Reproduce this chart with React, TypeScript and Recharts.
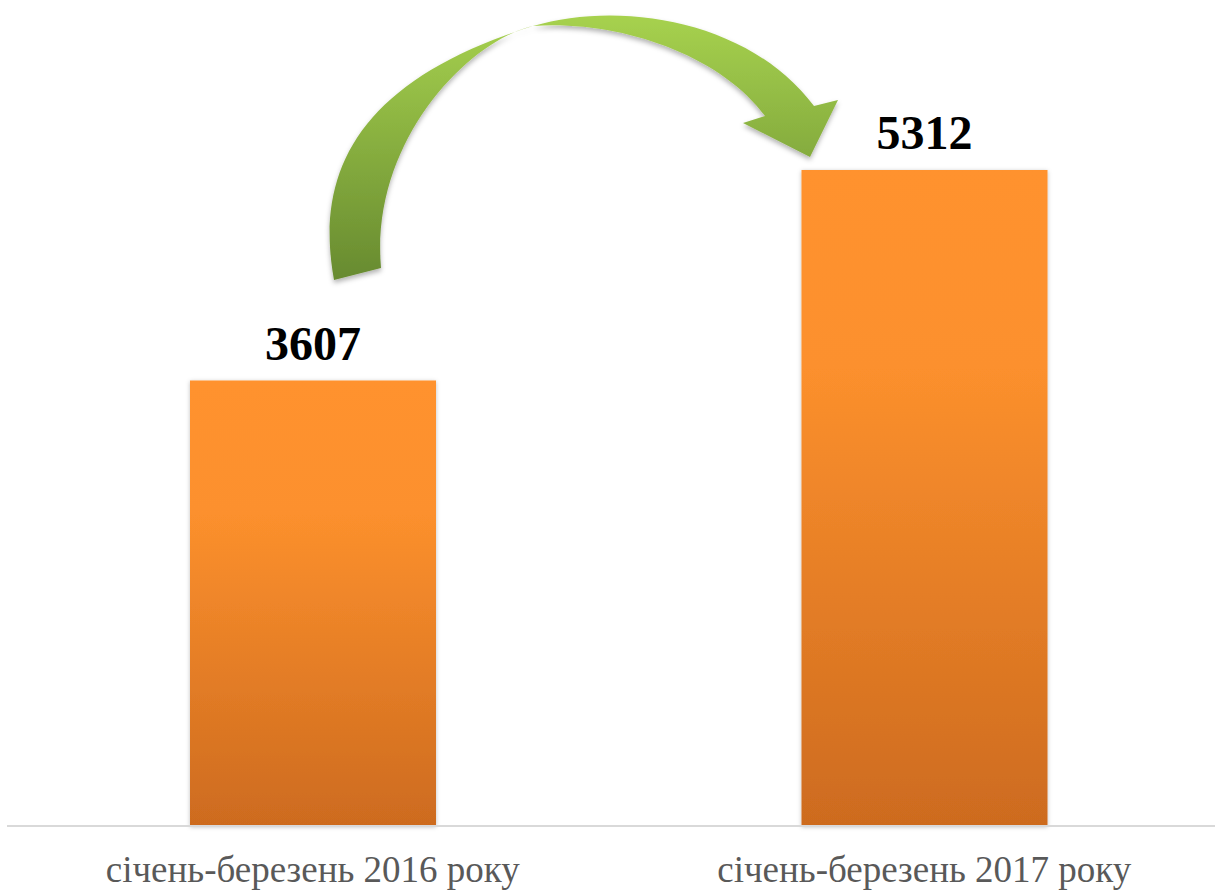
import React from 'react'
import { BarChart, Bar, XAxis, YAxis, LabelList } from 'recharts'

const categories = ['січень-березень 2016 року', 'січень-березень 2017 року']
const values = [3607, 5312]

const data = categories.map((period, i) => ({ period, value: values[i] }))

const W = 1215
const H = 892
const SERIF = '"Liberation Serif", "Times New Roman", serif'

const CategoryTick = (props: any) => {
  const { x, y, payload } = props
  return (
    <text
      x={x}
      y={y + 56}
      textAnchor="middle"
      fontFamily={SERIF}
      fontSize={37}
      fill="#595959"
    >
      {payload.value}
    </text>
  )
}

const ValueLabel = (props: any) => {
  const { x, y, width, value } = props
  return (
    <text
      x={x + width / 2}
      y={y - 21}
      textAnchor="middle"
      fontFamily={SERIF}
      fontSize={48}
      fontWeight="bold"
      fill="#000"
    >
      {value}
    </text>
  )
}

// decorative curved arrow between the two bars
function GrowthArrow() {
  const d = [
    'M 334 280',
    'C 314 170, 360 80, 533 26',
    'C 620 0, 750 20, 814 106',
    'L 838 100',
    'L 810 157',
    'L 743 123',
    'L 765 116',
    'C 720 55, 620 20, 533 26',
    'C 470 40, 370 140, 381 268',
    'Z',
  ].join(' ')
  return (
    <svg
      width={W}
      height={H}
      style={{ position: 'absolute', left: 0, top: 0, pointerEvents: 'none' }}
    >
      <defs>
        <linearGradient id="arrowFill" x1="0" y1="10" x2="0" y2="285" gradientUnits="userSpaceOnUse">
          <stop offset="0%" stopColor="#A8D34F" />
          <stop offset="100%" stopColor="#66892F" />
        </linearGradient>
        <filter id="arrowShadow" x="-10%" y="-10%" width="120%" height="130%">
          <feDropShadow dx="0" dy="3" stdDeviation="2.5" floodColor="#000" floodOpacity="0.3" />
        </filter>
      </defs>
      <path d={d} fill="url(#arrowFill)" filter="url(#arrowShadow)" />
    </svg>
  )
}

export default function App() {
  return (
    <div
      style={{
        position: 'absolute',
        left: 0,
        top: 0,
        width: W,
        height: H,
        overflow: 'hidden',
        background: '#fff',
      }}
    >
      <BarChart
        width={1230}
        height={H}
        data={data}
        margin={{ top: 85, right: 0, left: 7, bottom: 36 }}
      >
        <defs>
          <linearGradient id="barFill" x1="0" y1="0" x2="0" y2="1">
            <stop offset="0%" stopColor="#FF922E" />
            <stop offset="30%" stopColor="#FC902D" />
            <stop offset="100%" stopColor="#CD6B1F" />
          </linearGradient>
          <filter id="barShadow" x="-10%" y="-10%" width="120%" height="120%">
            <feDropShadow dx="0" dy="1" stdDeviation="2" floodColor="#000" floodOpacity="0.25" />
          </filter>
        </defs>
        <XAxis
          dataKey="period"
          height={30}
          axisLine={{ stroke: '#D9D9D9', strokeWidth: 2 }}
          tickLine={false}
          tickSize={0}
          tickMargin={0}
          tick={<CategoryTick />}
          interval={0}
        />
        <YAxis hide domain={[0, 6000]} />
        <Bar
          dataKey="value"
          fill="url(#barFill)"
          barSize={246}
          filter="url(#barShadow)"
          isAnimationActive={false}
        >
          <LabelList dataKey="value" content={<ValueLabel />} />
        </Bar>
      </BarChart>
      <GrowthArrow />
    </div>
  )
}
